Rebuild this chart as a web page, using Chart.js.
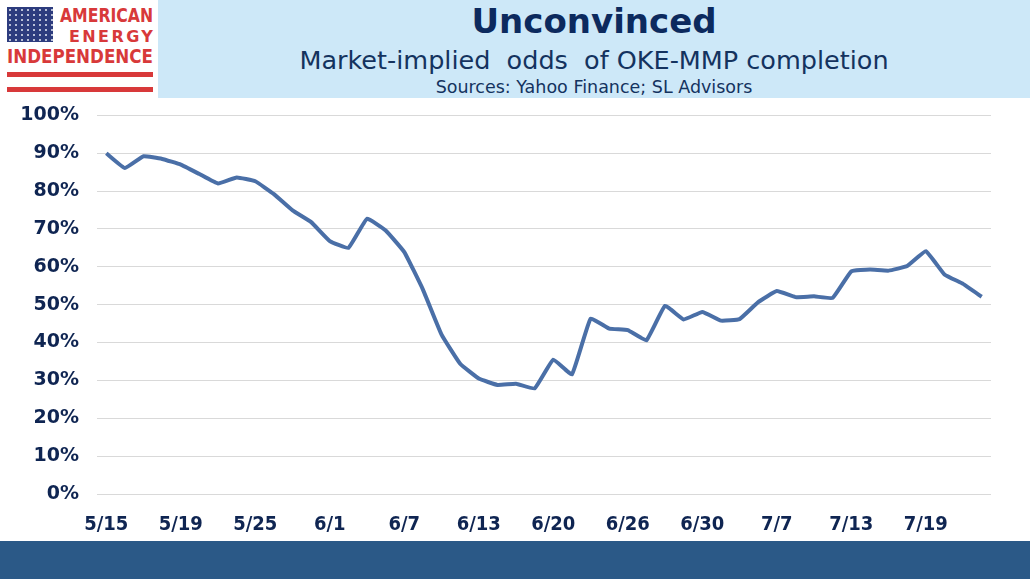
<!DOCTYPE html>
<html>
<head>
<meta charset="utf-8">
<script src="https://cdn.jsdelivr.net/npm/chart.js@4.4.0/dist/chart.umd.min.js"></script>
<style>
  body { margin:0; width:1030px; height:579px; background:#fff; position:relative; overflow:hidden; font-family:"DejaVu Sans", Verdana, sans-serif; }
  #band { position:absolute; left:158px; top:0; width:872px; height:98px; background:#cde8f8; }
  #title { position:absolute; left:158px; width:872px; top:1px; text-align:center; color:#0c2a5e; font-weight:bold; font-size:34px; }
  #sub { position:absolute; left:158px; width:872px; top:45px; text-align:center; color:#14335f; font-size:25.5px; }
  #src { position:absolute; left:158px; width:872px; top:77px; text-align:center; color:#14335f; font-size:17.5px; }
  #logo { position:absolute; left:0; top:0; }
  #wrap { position:absolute; left:0; top:86px; width:1030px; height:455px; }
  #foot { position:absolute; left:0; top:541px; width:1030px; height:38px; background:#2b5987; }
</style>
</head>
<body>
<div id="band"></div>
<svg id="logo" width="158" height="100">
  <defs>
    <pattern id="stars" x="8" y="8" width="6" height="5" patternUnits="userSpaceOnUse">
      <circle cx="2" cy="2" r="1" fill="#e8ecf5"/>
    </pattern>
  </defs>
  <rect x="7" y="7" width="46" height="35" fill="#2d3c7e"/>
  <rect x="7" y="7" width="46" height="35" fill="url(#stars)"/>
  <text x="60" y="22" fill="#d8393a" font-family="DejaVu Sans" font-weight="bold" font-size="20" textLength="93" lengthAdjust="spacingAndGlyphs">AMERICAN</text>
  <text x="69" y="42" fill="#d8393a" font-family="DejaVu Sans" font-weight="bold" font-size="16" letter-spacing="2.4">ENERGY</text>
  <text x="7" y="63" fill="#d8393a" font-family="DejaVu Sans" font-weight="bold" font-size="20" textLength="146" lengthAdjust="spacingAndGlyphs">INDEPENDENCE</text>
  <rect x="7" y="72" width="146" height="5" fill="#d8393a"/>
  <rect x="7" y="87" width="146" height="5" fill="#d8393a"/>
</svg>
<div id="title">Unconvinced</div>
<div id="sub">Market-implied&nbsp; odds&nbsp; of OKE-MMP completion</div>
<div id="src">Sources: Yahoo Finance; SL Advisors</div>
<div id="wrap"><canvas id="mycanvas"></canvas></div>
<div id="foot"></div>
<script>
// trading days, mid May to late July
var dates = ["5/15","5/16","5/17","5/18","5/19","5/22","5/23","5/24","5/25","5/26",
  "5/30","5/31","6/1","6/2","6/5","6/6","6/7","6/8","6/9","6/12",
  "6/13","6/14","6/15","6/16","6/20","6/21","6/22","6/23","6/26","6/27",
  "6/28","6/29","6/30","7/3","7/5","7/6","7/7","7/10","7/11","7/12",
  "7/13","7/14","7/17","7/18","7/19","7/20","7/21","7/24"];

// implied odds of deal completion, %
var odds = [90.0,86.1,89.2,88.5,87.0,84.5,82.0,83.6,82.6,79.2,
  74.9,71.8,66.8,65.0,72.7,69.6,63.9,54.0,42.1,34.4,
  30.5,28.8,29.1,27.9,35.5,31.6,46.3,43.7,43.3,40.6,
  49.7,46.1,48.1,45.8,46.2,50.7,53.6,52.0,52.2,51.8,
  58.8,59.3,59.0,60.2,64.1,58.0,55.5,52.1];

var labelEvery = 4;
var navy = "#0f2552";

var ctx = document.getElementById("mycanvas");
var chart = new Chart(ctx, {
  type: 'line',
  data: {
    labels: dates,
    datasets: [{
      data: odds,
      borderColor: '#4a6fa7',
      borderWidth: 4,
      pointRadius: 0,
      tension: 0.1,
      fill: false
    }]
  },
  options: {
    responsive: true,
    maintainAspectRatio: false,
    animation: false,
    layout: { padding: { top: 0, right: 39, left: 0, bottom: 0 } },
    plugins: { legend: { display: false }, tooltip: { enabled: false } },
    scales: {
      x: {
        offset: true,
        grid: { display: false },
        border: { display: false },
        afterFit: function(s) { s.height = 47; },
        ticks: {
          autoSkip: false,
          maxRotation: 0,
          padding: 11,
          color: navy,
          font: { family: "DejaVu Sans Condensed", weight: "bold", size: 20 },
          callback: function(v, i) { return i % labelEvery === 0 ? dates[i] : ''; }
        }
      },
      y: {
        min: 0,
        max: 100,
        afterFit: function(s) { s.width = 97; },
        border: { display: false },
        grid: { color: '#d9d9d9', lineWidth: 1, drawTicks: false },
        ticks: {
          stepSize: 10,
          padding: 18,
          color: navy,
          font: { family: "DejaVu Sans", weight: "bold", size: 19 },
          callback: function(v) { return v + '%'; }
        }
      }
    }
  }
});
</script>
</body>
</html>
